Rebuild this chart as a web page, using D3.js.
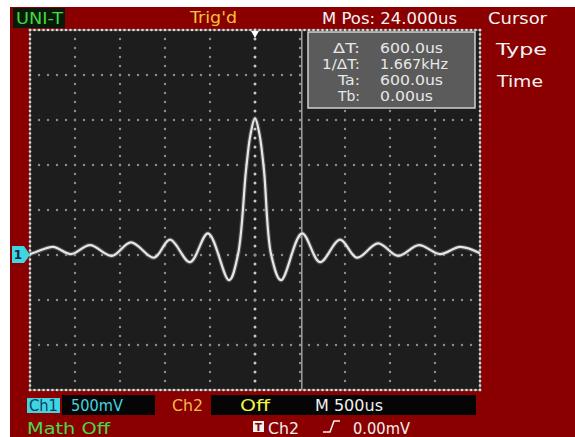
<!DOCTYPE html>
<html>
<head>
<meta charset="utf-8">
<script src="https://cdn.jsdelivr.net/npm/d3@7"></script>
<style>
  body { margin: 0; background: #fff; }
  text { font-family: 'DejaVu Sans', sans-serif; }
</style>
</head>
<body>
<div id="chart"></div>
<script>
const width = 575;
const height = 437;

// scope settings: 500us/div, 500mV/div, 10 x 8 divisions
const gridTimes = [-2500, -2000, -1500, -1000, -500, 0, 500, 1000, 1500, 2000, 2500];
const gridVolts = [-1.5, -1, -0.5, 0, 0.5, 1, 1.5, 2, 2.5];

// ch1 trace (time in us, volts)
const traceTime = [-2500, -2440, -2244, -2044, -1833, -1589, -1378, -1122, -944, -722, -522, -289, -190, -100, -50, 0, 50, 100, 180, 289, 522, 722, 944, 1133, 1367, 1589, 1822, 2056, 2278, 2500];
const traceVolt = [0.01, 0.03, 0.09, 0.01, 0.11, -0.01, 0.14, -0.03, 0.17, -0.08, 0.24, -0.28, 0.0, 0.94, 1.34, 1.52, 1.34, 0.94, 0.0, -0.28, 0.24, -0.08, 0.17, -0.03, 0.13, -0.01, 0.11, 0.01, 0.09, 0.02];

const cursorLabels = ['\u0394T:', '1/\u0394T:', 'Ta:', 'Tb:'];
const cursorValues = ['600.0us', '1.667kHz', '600.0us', '0.00us'];
const cursorTime = 520;

const svg = d3.select('#chart')
  .append('svg')
  .attr('width', width)
  .attr('height', height)

const xScale = d3.scaleLinear()
                 .domain([-2500, 2500])
                 .range([30, 480])

const yScale = d3.scaleLinear()
                 .domain([-1.5, 2.5])
                 .range([390, 30])

// case
svg.append('rect')
   .attr('x', 10).attr('y', 7)
   .attr('width', width - 10).attr('height', height - 7)
   .style('fill', '#8a0000')

// screen
svg.append('rect')
   .attr('x', xScale(-2500)).attr('y', yScale(2.5))
   .attr('width', xScale(2500) - xScale(-2500))
   .attr('height', yScale(-1.5) - yScale(2.5))
   .style('fill', '#1e1d1d')

// dotted grid
const grid = svg.append('g');
const vSteps = d3.range(-1.5, 2.5001, 0.1);
const tSteps = d3.range(-2500, 2500.1, 100);

gridTimes.slice(1, -1).forEach((t) => {
  grid.selectAll(null)
      .data(vSteps)
      .enter()
      .append('circle')
      .attr('cx', xScale(t))
      .attr('cy', (v) => yScale(v))
      .attr('r', t === 0 ? 1.5 : 1.2)
      .style('fill', t === 0 ? '#c8c8c8' : '#8e8e8e')
})

gridVolts.slice(1, -1).forEach((v) => {
  grid.selectAll(null)
      .data(tSteps)
      .enter()
      .append('circle')
      .attr('cx', (t) => xScale(t))
      .attr('cy', yScale(v))
      .attr('r', 1.2)
      .style('fill', '#8e8e8e')
})

// border with fine ticks
grid.append('rect')
    .attr('x', xScale(-2500)).attr('y', yScale(2.5))
    .attr('width', xScale(2500) - xScale(-2500))
    .attr('height', yScale(-1.5) - yScale(2.5))
    .style('fill', 'none')
    .style('stroke', '#5f6a66')
    .style('stroke-width', 1.5)

const tFine = d3.range(-2500, 2500.1, 50);
const vFine = d3.range(-1.5, 2.5001, 0.05);
[2.5, -1.5].forEach((v) => {
  grid.selectAll(null).data(tFine).enter().append('circle')
      .attr('cx', (t) => xScale(t)).attr('cy', yScale(v)).attr('r', 1.3)
      .style('fill', '#d8d8d8')
});
[-2500, 2500].forEach((t) => {
  grid.selectAll(null).data(vFine).enter().append('circle')
      .attr('cx', xScale(t)).attr('cy', (v) => yScale(v)).attr('r', 1.3)
      .style('fill', '#d8d8d8')
});

// cursor line
svg.append('line')
   .attr('x1', xScale(cursorTime)).attr('x2', xScale(cursorTime))
   .attr('y1', yScale(2.5)).attr('y2', yScale(-1.5))
   .style('stroke', '#a0a0a0')
   .style('stroke-width', 1.5)

// trace
const line = d3.line()
               .x((d) => xScale(d[0]))
               .y((d) => yScale(d[1]))
               .curve(d3.curveCatmullRom.alpha(0.5))
const traceData = traceTime.map((t, i) => [t, traceVolt[i]]);

svg.append('path')
   .attr('d', line(traceData))
   .style('fill', 'none')
   .style('stroke', '#777')
   .style('stroke-width', 4.5)
   .style('opacity', 0.5)

svg.append('path')
   .attr('d', line(traceData))
   .style('fill', 'none')
   .style('stroke', '#e6e6e6')
   .style('stroke-width', 2.2)

// cursor readout box
const box = svg.append('g');
box.append('rect')
   .attr('x', 308).attr('y', 32)
   .attr('width', 167).attr('height', 76)
   .style('fill', '#5b5b5b')
   .style('stroke', '#d0d0d0')
   .style('stroke-width', 1.5)

const labelW = [27, 38, 22, 22];
const valueW = [63, 68, 63, 53];
cursorLabels.forEach((s, i) => {
  box.append('text')
     .text(s)
     .attr('x', 360 - labelW[i]).attr('y', 53 + i * 16)
     .attr('textLength', labelW[i]).attr('lengthAdjust', 'spacingAndGlyphs')
     .style('font-size', '14px')
     .style('fill', '#e8e8e8')
  box.append('text')
     .text(cursorValues[i])
     .attr('x', 380).attr('y', 53 + i * 16)
     .attr('textLength', valueW[i]).attr('lengthAdjust', 'spacingAndGlyphs')
     .style('font-size', '14px')
     .style('fill', '#e8e8e8')
})

// ch1 ground marker
svg.append('path')
   .attr('d', 'M12,246 L24,246 L30,' + yScale(0) + ' L24,263 L12,263 Z')
   .style('fill', '#3fd6e0')
svg.append('text')
   .text('1')
   .attr('x', 18).attr('y', 259)
   .attr('text-anchor', 'middle')
   .style('font-size', '12px')
   .style('font-weight', 'bold')
   .style('fill', '#0a2a4a')

// trigger position marker
svg.append('path')
   .attr('d', 'M' + (xScale(0) - 4) + ',31 L' + (xScale(0) + 4) + ',31 L' + xScale(0) + ',38 Z')
   .style('fill', '#ffffff')

// header
svg.append('rect')
   .attr('x', 13).attr('y', 8).attr('width', 52).attr('height', 20)
   .style('fill', '#0a1a0a')
svg.append('text').text('UNI-T')
   .attr('x', 16).attr('y', 24)
   .attr('textLength', 47).attr('lengthAdjust', 'spacingAndGlyphs')
   .style('font-size', '16px').style('fill', '#44d844')
svg.append('text').text("Trig'd")
   .attr('x', 190).attr('y', 23)
   .attr('textLength', 47).attr('lengthAdjust', 'spacingAndGlyphs')
   .style('font-size', '15px').style('fill', '#f2c23c')
svg.append('text').text('M Pos: 24.000us')
   .attr('x', 322).attr('y', 24)
   .attr('textLength', 135).attr('lengthAdjust', 'spacingAndGlyphs')
   .style('font-size', '15px').style('fill', '#f4f4f4')
svg.append('text').text('Cursor')
   .attr('x', 488).attr('y', 24)
   .attr('textLength', 59).attr('lengthAdjust', 'spacingAndGlyphs')
   .style('font-size', '15px').style('fill', '#f4f4f4')
svg.append('text').text('Type')
   .attr('x', 496).attr('y', 55)
   .attr('textLength', 51).attr('lengthAdjust', 'spacingAndGlyphs')
   .style('font-size', '15px').style('fill', '#f4f4f4')
svg.append('text').text('Time')
   .attr('x', 497).attr('y', 87)
   .attr('textLength', 46).attr('lengthAdjust', 'spacingAndGlyphs')
   .style('font-size', '15px').style('fill', '#f4f4f4')

// bottom status bar
svg.append('rect')
   .attr('x', 27).attr('y', 398).attr('width', 33).attr('height', 15)
   .style('fill', '#3fd6e0')
svg.append('rect')
   .attr('x', 62).attr('y', 395).attr('width', 93).attr('height', 20)
   .style('fill', '#050505')
svg.append('rect')
   .attr('x', 211).attr('y', 395).attr('width', 265).attr('height', 20)
   .style('fill', '#050505')

const status = [
  {s: 'Ch1', x: 29, y: 411, w: 29, c: '#123a6a'},
  {s: '500mV', x: 71, y: 411, w: 52, c: '#3fd6e0'},
  {s: 'Ch2', x: 172, y: 411, w: 31, c: '#f0b848'},
  {s: 'Off', x: 240, y: 411, w: 30, c: '#f2f24a'},
  {s: 'M 500us', x: 315, y: 411, w: 68, c: '#f0f0f0'},
  {s: 'Math Off', x: 27, y: 434, w: 83, c: '#4ad84a'},
  {s: 'Ch2', x: 268, y: 434, w: 31, c: '#f0f0f0'},
  {s: '0.00mV', x: 353, y: 434, w: 57, c: '#f0f0f0'}
];
status.forEach((d) => {
  svg.append('text').text(d.s)
     .attr('x', d.x).attr('y', d.y)
     .attr('textLength', d.w).attr('lengthAdjust', 'spacingAndGlyphs')
     .style('font-size', '15px').style('fill', d.c)
})

svg.append('rect')
   .attr('x', 253).attr('y', 421).attr('width', 11).attr('height', 11)
   .style('fill', '#f0f0f0')
svg.append('text').text('T')
   .attr('x', 258.5).attr('y', 431)
   .attr('text-anchor', 'middle')
   .style('font-size', '10px').style('font-weight', 'bold')
   .style('fill', '#8a0000')

// rising edge symbol
svg.append('path')
   .attr('d', 'M323,432 L330,432 L334,421 L340,421')
   .style('fill', 'none')
   .style('stroke', '#f0f0f0')
   .style('stroke-width', 1.5)
</script>
</body>
</html>
